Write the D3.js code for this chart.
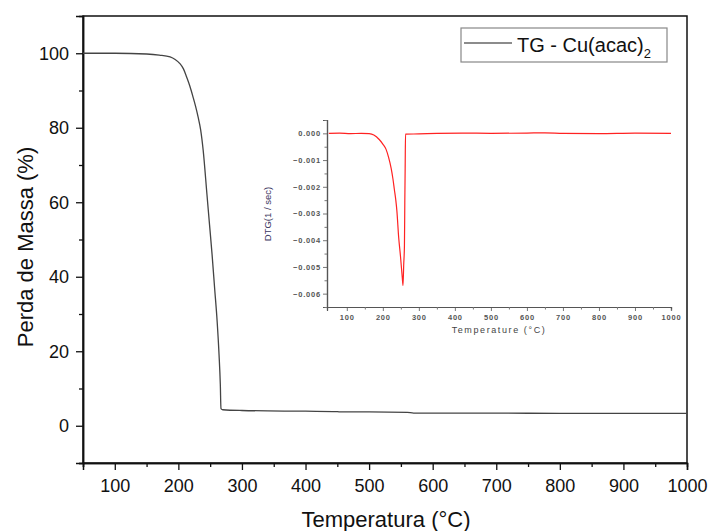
<!DOCTYPE html>
<html>
<head>
<meta charset="utf-8">
<script src="https://cdn.jsdelivr.net/npm/d3@7/dist/d3.min.js"></script>
<style>
  body { margin: 0; background: #fff; }
  svg { font-family: "Liberation Sans", Arial, sans-serif; }
</style>
</head>
<body>
<svg id="chart" width="710" height="531"></svg>
<script>
// TG curve: temperature (°C) and mass (%)
const tgTemp = [50, 100, 150, 170, 187, 195, 202, 208, 213, 218, 223, 227, 231, 235, 239, 245, 249, 253, 257, 261, 264, 266, 267, 270, 300, 400, 450, 456, 500, 560, 570, 700, 800, 1000];
const tgMass = [100, 100, 99.8, 99.5, 99, 98.3, 97.3, 95.8, 93.6, 91.2, 88.3, 85.8, 82.9, 79.5, 74, 62, 54, 46, 37, 28, 19, 11, 4.6, 4.3, 4.1, 3.9, 3.8, 3.7, 3.7, 3.6, 3.4, 3.4, 3.3, 3.3];

// DTG inset: temperature (°C) and DTG (1/sec)
const dtgTemp = [50, 80, 110, 140, 162, 175, 190, 200, 209, 216, 223, 228, 232, 236, 239, 244, 249, 254, 256, 258, 260, 261, 262, 263, 300, 350, 420, 500, 600, 650, 700, 800, 900, 1000];
const dtgVal = [0, 0.00001, -0.00001, 0, -0.00001, -0.00006, -0.00023, -0.0004, -0.0006, -0.0009, -0.0013, -0.0017, -0.0021, -0.0025, -0.0029, -0.0039, -0.0046, -0.0054, -0.0057, -0.0049, -0.0042, -0.0026, -0.0013, -0.00003, -0.00002, 0, 0.00001, 0, 0.00001, 0.00002, 0, -0.00001, 0.00001, 0];

const mainXTicks = [100, 200, 300, 400, 500, 600, 700, 800, 900, 1000];
const mainYTicks = [0, 20, 40, 60, 80, 100];
const insetYTicks = [0, -0.001, -0.002, -0.003, -0.004, -0.005, -0.006];

const svg = d3.select("#chart");

// main plot
const x = d3.scaleLinear().domain([50, 1000]).range([83, 687]);
const y = d3.scaleLinear().domain([-10, 110]).range([463, 16]);

// frame
svg.append("rect")
    .attr("x", 83).attr("y", 16)
    .attr("width", 604).attr("height", 447)
    .attr("fill", "none").attr("stroke", "#111").attr("stroke-width", 1.5);

const xAxis = svg.append("g")
    .attr("transform", "translate(0,463)")
    .call(d3.axisBottom(x).tickValues(mainXTicks).tickSize(7).tickFormat(d3.format("d")));
svg.append("g")
    .attr("transform", "translate(0,463)")
    .call(d3.axisBottom(x).tickValues(d3.range(50, 1000, 100)).tickSize(4).tickFormat(""));

const yAxis = svg.append("g")
    .attr("transform", "translate(83,0)")
    .call(d3.axisLeft(y).tickValues(mainYTicks).tickSize(7));
svg.append("g")
    .attr("transform", "translate(83,0)")
    .call(d3.axisLeft(y).tickValues(d3.range(-10, 110, 20)).tickSize(4).tickFormat(""));

svg.selectAll(".domain").attr("stroke", "#111").attr("stroke-width", 1.5);
svg.selectAll(".tick line").attr("stroke", "#111").attr("stroke-width", 1.3);

xAxis.selectAll("text")
    .attr("y", 16)
    .attr("font-size", 18)
    .attr("font-family", "Liberation Sans, Arial, sans-serif")
    .attr("fill", "#111");
yAxis.selectAll("text")
    .attr("x", -14)
    .attr("font-size", 18)
    .attr("font-family", "Liberation Sans, Arial, sans-serif")
    .attr("fill", "#111");

svg.append("text")
    .attr("x", 386).attr("y", 527)
    .attr("text-anchor", "middle")
    .attr("font-size", 22)
    .attr("fill", "#111")
    .text("Temperatura (°C)");

svg.append("text")
    .attr("transform", "translate(33,247) rotate(-90)")
    .attr("text-anchor", "middle")
    .attr("font-size", 22)
    .attr("fill", "#111")
    .text("Perda de Massa (%)");

const tgData = tgTemp.map((t, i) => ({ t: t, v: tgMass[i] }));
const tgLine = d3.line().x(d => x(d.t)).y(d => y(d.v)).curve(d3.curveMonotoneX);
svg.append("path")
    .datum(tgData)
    .attr("d", tgLine)
    .attr("fill", "none")
    .attr("stroke", "#444")
    .attr("stroke-width", 1.3);

// legend
svg.append("rect")
    .attr("x", 461).attr("y", 28)
    .attr("width", 206).attr("height", 34)
    .attr("fill", "#fff").attr("stroke", "#888").attr("stroke-width", 1.2);
svg.append("line")
    .attr("x1", 464).attr("x2", 512)
    .attr("y1", 43).attr("y2", 43)
    .attr("stroke", "#666").attr("stroke-width", 1.3);
const legText = svg.append("text")
    .attr("x", 517).attr("y", 52)
    .attr("font-size", 20)
    .attr("fill", "#111");
legText.append("tspan").text("TG - Cu(acac)");
legText.append("tspan").attr("dy", 6).attr("font-size", 13).text("2");

// inset
const ix = d3.scaleLinear().domain([45, 1000]).range([327, 671]);
const iy = d3.scaleLinear().domain([-0.0065, 0.0005]).range([307, 120]);

const ixAxis = svg.append("g")
    .attr("transform", "translate(0,307)")
    .call(d3.axisBottom(ix).tickValues(mainXTicks).tickSize(4).tickFormat(d3.format("d")));
svg.append("g")
    .attr("transform", "translate(0,307)")
    .call(d3.axisBottom(ix).tickValues(d3.range(150, 1000, 100)).tickSize(2.5).tickFormat(""));
const iyAxis = svg.append("g")
    .attr("transform", "translate(327,0)")
    .call(d3.axisLeft(iy).tickValues(insetYTicks).tickSize(4).tickFormat(d3.format(".3f")));
svg.append("g")
    .attr("transform", "translate(327,0)")
    .call(d3.axisLeft(iy).tickValues([0.0005, -0.0005, -0.0015, -0.0025, -0.0035, -0.0045, -0.0055, -0.0065]).tickSize(2.5).tickFormat(""));

[ixAxis, iyAxis].forEach(g => {
    g.selectAll("text")
        .attr("font-size", 7.5)
        .attr("font-family", "Liberation Sans, Arial, sans-serif")
        .attr("letter-spacing", 0.8)
        .attr("font-weight", "bold")
        .attr("fill", "#555");
});
ixAxis.selectAll("text").attr("y", 8);
iyAxis.selectAll("text").attr("x", -6);

svg.selectAll(".domain").filter(function () {
    const p = this.parentNode.getAttribute("transform");
    return p === "translate(0,307)" || p === "translate(327,0)";
}).attr("stroke", "#555").attr("stroke-width", 1.2);
svg.selectAll("g").filter(function () {
    const p = this.getAttribute("transform");
    return p === "translate(0,307)" || p === "translate(327,0)";
}).selectAll(".tick line").attr("stroke", "#777").attr("stroke-width", 1);

svg.append("text")
    .attr("x", 499).attr("y", 333)
    .attr("text-anchor", "middle")
    .attr("font-size", 9)
    .attr("letter-spacing", 1.6)
    .attr("fill", "#444")
    .text("Temperature (°C)");

svg.append("text")
    .attr("transform", "translate(271,214) rotate(-90)")
    .attr("text-anchor", "middle")
    .attr("font-size", 9.5)
    .attr("fill", "#3a3560")
    .text("DTG(1 / sec)");

const dtgData = dtgTemp.map((t, i) => ({ t: t, v: dtgVal[i] }));
svg.append("path")
    .datum(dtgData)
    .attr("d", d3.line().x(d => ix(d.t)).y(d => iy(d.v)).curve(d3.curveMonotoneX))
    .attr("fill", "none")
    .attr("stroke", "#f22")
    .attr("stroke-width", 1.2);
</script>
</body>
</html>
